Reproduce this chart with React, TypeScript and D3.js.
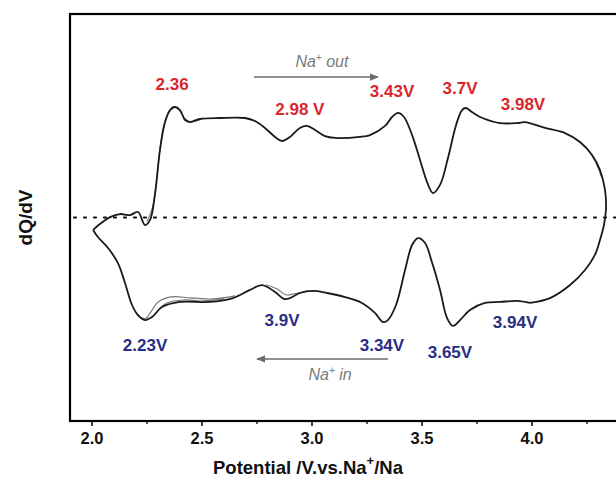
import * as d3 from "d3";

// charge branch (Na+ out), potential V vs dQ/dV (arb. units)
const chargeCurve: [number, number][] = [
  [2.005, -0.061], [2.036, -0.032], [2.082, 0.002], [2.127, 0.017], [2.173, 0.012],
  [2.209, 0.027], [2.241, -0.037], [2.264, -0.012], [2.286, 0.111], [2.309, 0.332],
  [2.332, 0.469], [2.355, 0.528], [2.377, 0.543], [2.4, 0.528], [2.423, 0.479],
  [2.445, 0.469], [2.491, 0.484], [2.582, 0.489], [2.695, 0.489], [2.741, 0.474],
  [2.786, 0.44], [2.832, 0.396], [2.864, 0.376], [2.9, 0.396], [2.945, 0.44],
  [2.977, 0.45], [3.014, 0.43], [3.059, 0.4], [3.105, 0.391], [3.218, 0.396],
  [3.264, 0.405], [3.332, 0.45], [3.364, 0.494], [3.391, 0.514], [3.418, 0.494],
  [3.455, 0.405], [3.491, 0.283], [3.523, 0.174], [3.55, 0.12], [3.582, 0.16],
  [3.618, 0.292], [3.655, 0.455], [3.682, 0.528], [3.7, 0.538], [3.727, 0.518],
  [3.764, 0.494], [3.855, 0.464], [3.932, 0.464], [3.968, 0.469], [4.059, 0.44],
  [4.15, 0.415], [4.218, 0.371], [4.273, 0.307], [4.309, 0.233], [4.332, 0.135],
  [4.336, 0.037], [4.327, -0.037], [4.309, -0.111], [4.286, -0.184], [4.241, -0.258],
  [4.173, -0.332], [4.082, -0.396], [3.991, -0.42],
];

// discharge branch (Na+ in)
const dischargeCurve: [number, number][] = [
  [3.991, -0.42], [3.932, -0.41], [3.855, -0.415], [3.786, -0.42], [3.718, -0.455],
  [3.673, -0.504], [3.641, -0.533], [3.614, -0.494], [3.582, -0.356], [3.545, -0.219],
  [3.514, -0.125], [3.482, -0.101], [3.455, -0.135], [3.423, -0.258], [3.382, -0.43],
  [3.345, -0.504], [3.323, -0.514], [3.286, -0.469], [3.227, -0.42], [3.15, -0.391],
  [3.068, -0.371], [3.005, -0.361], [2.945, -0.371], [2.9, -0.396], [2.873, -0.4],
  [2.832, -0.366], [2.773, -0.332], [2.718, -0.356], [2.641, -0.396], [2.536, -0.415],
  [2.4, -0.415], [2.318, -0.44], [2.273, -0.489], [2.241, -0.504], [2.209, -0.48],
  [2.182, -0.43], [2.15, -0.322], [2.118, -0.224], [2.073, -0.15], [2.027, -0.096],
  [2.005, -0.061],
];

// other cycles, only where they split from the main trace
const cycle2Rise: [number, number][] = [
  [2.25, -0.02], [2.275, 0.05], [2.3, 0.25], [2.32, 0.42], [2.345, 0.51],
  [2.37, 0.545], [2.395, 0.53], [2.42, 0.49], [2.445, 0.47], [2.49, 0.48],
];
const cycle2Low: [number, number][] = [
  [2.65, -0.385], [2.55, -0.4], [2.45, -0.395], [2.36, -0.39], [2.3, -0.415],
  [2.27, -0.46], [2.245, -0.495], [2.22, -0.49], [2.2, -0.465],
];
const cycle3Low: [number, number][] = [
  [2.6, -0.4], [2.5, -0.41], [2.42, -0.405], [2.34, -0.42], [2.29, -0.47],
];
const cycle2Mid: [number, number][] = [
  [2.98, -0.36], [2.92, -0.375], [2.88, -0.38], [2.84, -0.35], [2.79, -0.33],
];
const cycle2Right: [number, number][] = [
  [4.2, 0.385], [4.25, 0.34], [4.29, 0.27], [4.315, 0.2],
];

const xTicks = [2.0, 2.5, 3.0, 3.5, 4.0];
const xMinorTicks = [2.25, 2.75, 3.25, 3.75, 4.25];

const oxLabels = ["2.36", "2.98 V", "3.43V", "3.7V", "3.98V"];
const oxAt: [number, number][] = [[2.364, 0.631], [2.945, 0.509], [3.364, 0.597], [3.673, 0.612], [3.959, 0.533]];
const redLabels = ["2.23V", "3.9V", "3.34V", "3.65V", "3.94V"];
const redAt: [number, number][] = [[2.241, -0.651], [2.864, -0.528], [3.318, -0.651], [3.627, -0.686], [3.923, -0.538]];

const font = "Arial, 'Liberation Sans', sans-serif";

export default function App() {
  const x = d3.scaleLinear().domain([1.9, 4.45]).range([70, 631]);
  const y = d3.scaleLinear().domain([-1, 1]).range([421, 14]);
  const line = d3.line<[number, number]>()
    .x(d => x(d[0]))
    .y(d => y(d[1]))
    .curve(d3.curveCatmullRom.alpha(0.5));

  const naText = (label: string, vx: number, vy: number) => (
    <text x={x(vx)} y={y(vy)} textAnchor="middle" fontFamily={font} fontStyle="italic"
      fontSize={16} fill="#7a7a7a">
      Na<tspan dy={-6} fontSize={10}>+</tspan><tspan dy={6}>{" " + label}</tspan>
    </text>
  );

  return (
    <svg width={616} height={481} style={{ position: "absolute", left: 0, top: 0, background: "#fff" }}>
      <defs>
        <marker id="ah" viewBox="0 0 10 10" refX={9} refY={5} markerWidth={6} markerHeight={6} orient="auto">
          <path d="M0,1 L10,5 L0,9 z" fill="#6b6b6b" />
        </marker>
      </defs>
      <rect width={616} height={481} fill="#fff" />

      {/* zero line */}
      <line x1={x(1.9) + 4} x2={616} y1={y(0)} y2={y(0)} stroke="#111" strokeWidth={2.2}
        strokeDasharray="2,8" strokeLinecap="round" />

      {/* other cycles */}
      {[cycle2Rise, cycle2Low, cycle3Low, cycle2Mid, cycle2Right].map((c, i) => (
        <path key={i} d={line(c) ?? ""} fill="none" stroke="#777" strokeWidth={1.1} />
      ))}
      <path d={line(chargeCurve) ?? ""} fill="none" stroke="#1a1a1a" strokeWidth={1.8} />
      <path d={line(dischargeCurve) ?? ""} fill="none" stroke="#1a1a1a" strokeWidth={1.8} />

      {/* frame */}
      <rect x={x(1.9)} y={y(1)} width={x(4.45) - x(1.9)} height={y(-1) - y(1)}
        fill="none" stroke="#000" strokeWidth={2.2} />

      {xTicks.map(t => (
        <g key={t}>
          <line x1={x(t)} x2={x(t)} y1={y(-1)} y2={y(-1) + 5} stroke="#000" strokeWidth={1.5} />
          <text x={x(t)} y={y(-1) + 23} textAnchor="middle" fontFamily={font} fontWeight="bold"
            fontSize={16.5} fill="#111">{d3.format(".1f")(t)}</text>
        </g>
      ))}
      {xMinorTicks.map(t => (
        <line key={t} x1={x(t)} x2={x(t)} y1={y(-1)} y2={y(-1) + 3} stroke="#000" strokeWidth={1.3} />
      ))}

      <text x={308} y={474} textAnchor="middle" fontFamily={font} fontWeight="bold" fontSize={18.5} fill="#111">
        Potential /V.vs.Na<tspan dy={-9} fontSize={13}>+</tspan><tspan dy={9}>/Na</tspan>
      </text>
      <text transform={`translate(32,${y(0)}) rotate(-90)`} textAnchor="middle" fontFamily={font}
        fontWeight="bold" fontSize={19} fill="#111">dQ/dV</text>

      {oxLabels.map((s, i) => (
        <text key={s} x={x(oxAt[i][0])} y={y(oxAt[i][1]) + 1} textAnchor="middle" fontFamily={font}
          fontWeight="bold" fontSize={17} fill="#d8262c">{s}</text>
      ))}
      {redLabels.map((s, i) => (
        <text key={s} x={x(redAt[i][0])} y={y(redAt[i][1]) + 1} textAnchor="middle" fontFamily={font}
          fontWeight="bold" fontSize={17} fill="#2a2d84">{s}</text>
      ))}

      <line x1={x(2.736)} x2={x(3.3)} y1={y(0.69)} y2={y(0.69)} stroke="#6b6b6b" strokeWidth={1.5} markerEnd="url(#ah)" />
      {naText("out", 3.045, 0.74)}
      <line x1={x(3.345)} x2={x(2.75)} y1={y(-0.695)} y2={y(-0.695)} stroke="#6b6b6b" strokeWidth={1.5} markerEnd="url(#ah)" />
      {naText("in", 3.082, -0.799)}
    </svg>
  );
}
